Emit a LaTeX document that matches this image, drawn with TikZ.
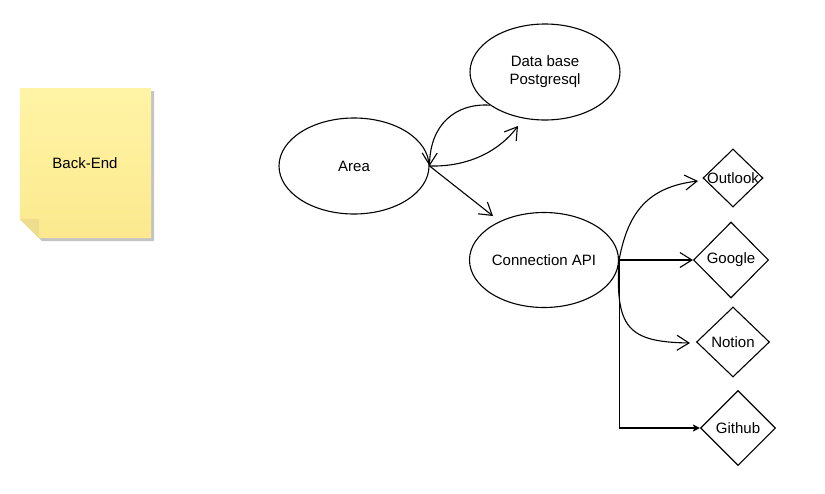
\documentclass[tikz,border=0pt]{standalone}
\usepackage{fontspec}
\setmainfont{Liberation Sans}
\usetikzlibrary{shapes.geometric,arrows.meta}
\definecolor{notetop}{HTML}{FFF4A6}
\definecolor{notebot}{HTML}{FCE98E}
\definecolor{notefold}{HTML}{EEDD8C}
\definecolor{shadowc}{HTML}{C4C4C4}
\begin{document}
\begin{tikzpicture}[x=1pt,y=-1pt,line width=1.1pt,
  txt/.style={font=\fontsize{15}{18}\selectfont, align=center, text=black},
  ell/.style={ellipse, draw, minimum width=150pt, minimum height=96pt, inner sep=0pt, txt},
  dia/.style={diamond, draw, inner sep=0pt},
  lbl/.style={txt, inner sep=0pt},
  oa/.style={-{Straight Barb[length=12pt,width=15pt]}},
  fa/.style={-{Stealth[length=7pt,width=7pt,inset=1.5pt]}}
]
\useasboundingbox (0,0) rectangle (825,493);

% sticky note
\fill[shadowc] (23,91) -- (154,91) -- (154,241) -- (42,241) -- (23,222) -- cycle;
\shade[top color=notetop, bottom color=notebot] (20,88) -- (151,88) -- (151,238) -- (39,238) -- (20,219) -- cycle;
\fill[notefold] (20,219) -- (39,219) -- (39,238) -- cycle;
\node[txt] (note) at (85,163) {Back-End};

% ellipses
\node[ell] (area) at (354,166) {Area};
\node[ell] (db) at (545,72) {Data base\\Postgresql};
\node[ell, minimum width=149pt, minimum height=95pt] (conn) at (544,260) {Connection API};

% diamonds
\node[dia, minimum width=60pt, minimum height=58pt, label={[lbl]center:Outlook}] (outlook) at (733,178) {};
\node[dia, minimum width=75pt, minimum height=76pt, label={[lbl]center:Google}] (google) at (731,260) {};
\node[dia, minimum width=73pt, minimum height=70pt, label={[lbl]center:Notion}] (notion) at (733,342) {};
\node[dia, minimum width=75pt, minimum height=75pt, label={[lbl]center:Github}] (github) at (738,428) {};

% free ends
\coordinate (dbin) at (518,126);
\coordinate (connin) at (493,216);
\coordinate (outin) at (698,181);
\coordinate (notin) at (690,343);

% connectors
\draw[oa] (db.211) .. controls (455,103) and (430,125) .. (area.east);
\draw[oa] (area.east) .. controls (470,167) and (500,150) .. (dbin);
\draw[oa] (area.east) -- (connin);
\draw[oa] (conn.east) .. controls (628,212) and (648,187) .. (outin);
\draw[oa] (conn.east) -- (google.west);
\draw[oa] (conn.east) .. controls (615,328) and (628,342) .. (notin);
\draw[fa] (conn.east) |- (github.west);
\end{tikzpicture}
\end{document}
